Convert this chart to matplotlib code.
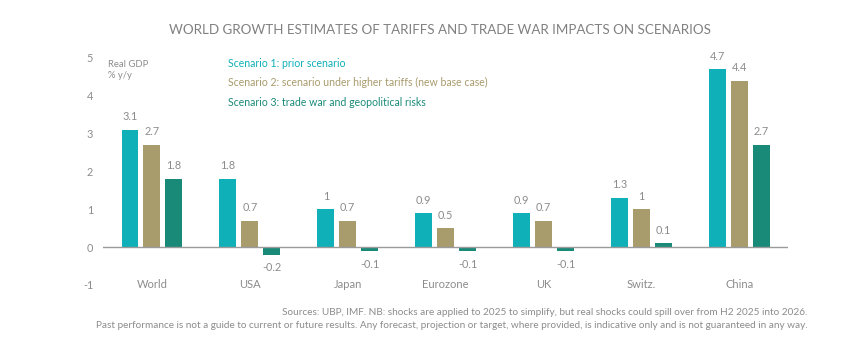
import numpy as np
from matplotlib import pyplot as plt

plt.rcParams['font.family'] = ['Lato', 'DejaVu Sans']

categories = ['World', 'USA', 'Japan', 'Eurozone', 'UK', 'Switz.', 'China']
scenario1 = [3.1, 1.8, 1, 0.9, 0.9, 1.3, 4.7]
scenario2 = [2.7, 0.7, 0.7, 0.5, 0.7, 1, 4.4]
scenario3 = [1.8, -0.2, -0.1, -0.1, -0.1, 0.1, 2.7]
series_names = ['Scenario 1: prior scenario',
                'Scenario 2: scenario under higher tariffs (new base case)',
                'Scenario 3: trade war and geopolitical risks']
colors = ['#10b0b8', '#a89b6c', '#1a8a78']

gray = '#8c8c8c'
fig = plt.figure(figsize=(8.44, 3.57), dpi=100)
ax = fig.add_axes([0.122, 0.2017, 0.812, 0.636])

x = np.arange(len(categories))
width = 0.173
step = 0.224
for k, (vals, col) in enumerate(zip([scenario1, scenario2, scenario3], colors)):
    pos = x + (k - 1) * step
    ax.bar(pos, vals, width=width, color=col, zorder=2)
    for p, v in zip(pos, vals):
        if v >= 0:
            ax.text(p, v + 0.2, '{:g}'.format(v), ha='center', va='bottom',
                    fontsize=7.8, color=gray)
        else:
            ax.text(p, v - 0.2, '{:g}'.format(v), ha='center', va='top',
                    fontsize=7.8, color=gray)

ax.axhline(0, color='#9a9a9a', lw=1, zorder=3)
ax.set_xlim(-0.5, 6.5)
ax.set_ylim(-1, 5)
for s in ax.spines.values():
    s.set_visible(False)
ax.set_xticks([])
ax.set_yticks(range(-1, 6))
ax.set_yticklabels([str(t) for t in range(-1, 6)], fontsize=7.8, color=gray)
ax.tick_params(axis='y', length=0, pad=7)

for i, c in enumerate(categories):
    ax.text(i, -1, c, ha='center', va='center', fontsize=8, color=gray)

ax.text(0.008, 0.99, 'Real GDP\n% y/y', transform=ax.transAxes,
        ha='left', va='top', fontsize=6.8, color=gray, linespacing=1.3)

for k, (name, col) in enumerate(zip(series_names, colors)):
    fig.text(0.270, 0.823 - k * 0.055, name, color=col, fontsize=7.6,
             ha='left', va='center')

fig.text(0.521, 0.916, 'WORLD GROWTH ESTIMATES OF TARIFFS AND TRADE WAR IMPACTS ON SCENARIOS',
         ha='center', va='center', fontsize=9.6, color='#808080')

fig.text(0.957, 0.126,
         'Sources: UBP, IMF. NB: shocks are applied to 2025 to simplify, but real shocks could spill over from H2 2025 into 2026.',
         ha='right', va='center', fontsize=7.2, color=gray)
fig.text(0.957, 0.087,
         'Past performance is not a guide to current or future results. Any forecast, projection or target, where provided, is indicative only and is not guaranteed in any way.',
         ha='right', va='center', fontsize=7.2, color=gray)

fig.savefig('out.png', dpi=100)
